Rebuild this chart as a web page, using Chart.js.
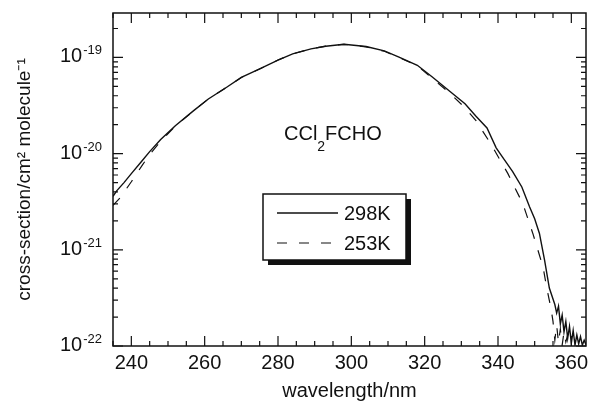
<!DOCTYPE html>
<html>
<head>
<meta charset="utf-8">
<title>CCl2FCHO absorption cross-section</title>
<script src="https://cdn.jsdelivr.net/npm/chart.js@4/dist/chart.umd.min.js"></script>
<style>
  html, body { margin: 0; padding: 0; background: #fff; }
  #wrap { width: 591px; height: 405px; }
</style>
</head>
<body>
<div id="wrap"><canvas id="chart"></canvas></div>
<script>
'use strict';

// ── Data ──────────────────────────────────────────────────────
const wl298 = [235, 236, 238, 240, 243, 245, 248, 252, 257, 261, 266, 270, 275, 280,
  284, 289, 293, 298, 304, 309, 313, 318, 322, 327, 331, 334, 337, 339.5, 341, 344,
  346.5, 348.6, 350, 351.3, 352.7, 354, 355.5, 356, 356.5, 357, 357.5, 358, 358.5,
  359, 359.5, 360, 360.5, 361, 361.5, 362, 362.5, 363, 363.5, 364];
const xs298 = [3.6e-21, 4.1e-21, 5.0e-21, 6.2e-21, 8.5e-21, 1.05e-20, 1.4e-20, 1.95e-20,
  2.8e-20, 3.7e-20, 4.9e-20, 6.2e-20, 7.6e-20, 9.4e-20, 1.09e-19, 1.23e-19, 1.31e-19,
  1.37e-19, 1.30e-19, 1.17e-19, 1.01e-19, 8.3e-20, 6.3e-20, 4.4e-20, 3.3e-20, 2.45e-20,
  1.85e-20, 1.15e-20, 9.5e-21, 6.5e-21, 4.5e-21, 2.8e-21, 2.1e-21, 1.48e-21, 7.8e-22,
  4.0e-22, 2.7e-22, 2.2e-22, 2.6e-22, 1.7e-22, 2.1e-22, 1.4e-22, 1.8e-22, 1.2e-22,
  1.6e-22, 1.07e-22, 1.45e-22, 1.02e-22, 1.3e-22, 1.05e-22, 1.25e-22, 1.02e-22,
  1.15e-22, 1.03e-22];

const wl253 = [235, 237, 240, 243, 245, 248, 252, 257, 261, 266, 270, 275, 280, 284,
  289, 293, 298, 304, 309, 313, 318, 322, 327, 331, 334, 338, 342.7, 346.8, 349.5,
  352.3, 353.2, 354.5, 355, 355.5, 356, 356.5, 357, 357.5, 358, 358.5, 359, 360];
const xs253 = [2.9e-21, 3.5e-21, 5.1e-21, 7.6e-21, 9.8e-21, 1.35e-20, 1.93e-20, 2.8e-20,
  3.7e-20, 4.9e-20, 6.2e-20, 7.6e-20, 9.4e-20, 1.09e-19, 1.23e-19, 1.31e-19, 1.37e-19,
  1.29e-19, 1.16e-19, 1.0e-19, 8.2e-20, 6.1e-20, 4.2e-20, 3.0e-20, 2.2e-20, 1.27e-20,
  6.2e-21, 3.0e-21, 1.48e-21, 6.6e-22, 4.2e-22, 2.4e-22, 1.8e-22, 1.15e-22, 1.65e-22,
  1.08e-22, 1.5e-22, 1.02e-22, 1.4e-22, 1.1e-22, 1.3e-22, 1.02e-22];

const xTickLabels = [240, 260, 280, 300, 320, 340, 360];
const yDecades    = [-22, -21, -20, -19];
const yTickExp    = ['-22', '-21', '-20', '-19'];

const FONT = '"Liberation Sans", Arial, Helvetica, sans-serif';
const INK  = '#111';

function pts(xs, ys) { return xs.map((x, i) => ({ x, y: ys[i] })); }

// ── Frame, inward ticks, y labels, legend box and label ───────
const paperPlugin = {
  id: 'paper',
  afterDatasetsDraw(chart) {
    const { ctx, chartArea: a, scales: { x, y } } = chart;
    ctx.save();
    ctx.strokeStyle = INK;
    ctx.fillStyle = INK;

    // frame
    ctx.lineWidth = 1.5;
    ctx.strokeRect(a.left, a.top, a.right - a.left, a.bottom - a.top);

    // x ticks, bottom and top
    ctx.lineWidth = 1.2;
    ctx.beginPath();
    for (let v = Math.ceil(x.min / 5) * 5; v <= x.max; v += 5) {
      const px = x.getPixelForValue(v);
      const len = v % 20 === 0 ? 10 : 5;
      ctx.moveTo(px, a.bottom); ctx.lineTo(px, a.bottom - len);
      ctx.moveTo(px, a.top);    ctx.lineTo(px, a.top + len);
    }
    // y ticks, left and right
    for (let e = -23; e <= -18; e++) {
      for (let m = 1; m <= 9; m++) {
        const v = m * Math.pow(10, e);
        if (v < y.min * 0.999 || v > y.max) continue;
        const py = y.getPixelForValue(v);
        const len = m === 1 ? 10 : 5;
        ctx.moveTo(a.left, py);  ctx.lineTo(a.left + len, py);
        ctx.moveTo(a.right, py); ctx.lineTo(a.right - len, py);
      }
    }
    ctx.stroke();

    // y tick labels: 10 with a raised exponent
    ctx.textBaseline = 'alphabetic';
    ctx.textAlign = 'left';
    yDecades.forEach((d, i) => {
      const py = y.getPixelForValue(Math.pow(10, d));
      ctx.font = '13px ' + FONT;
      const we = ctx.measureText(yTickExp[i]).width;
      ctx.font = '20px ' + FONT;
      const wb = ctx.measureText('10').width;
      const right = a.left - 11;
      ctx.fillText('10', right - we - wb - 1, py + 5);
      ctx.font = '13px ' + FONT;
      ctx.fillText(yTickExp[i], right - we, py - 3);
    });

    // compound label
    let tx = 284;
    const ty = 140;
    ctx.font = '20px ' + FONT;
    ctx.fillText('CCl', tx, ty);
    tx += ctx.measureText('CCl').width;
    ctx.font = '14px ' + FONT;
    ctx.fillText('2', tx, ty + 11);
    tx += ctx.measureText('2').width;
    ctx.font = '20px ' + FONT;
    ctx.fillText('FCHO', tx, ty);

    // legend box with drop shadow
    const bx = 263, by = 194, bw = 143, bh = 66;
    ctx.fillRect(bx + 5, by + 5, bw, bh);
    ctx.fillStyle = '#fff';
    ctx.fillRect(bx, by, bw, bh);
    ctx.lineWidth = 1.5;
    ctx.strokeRect(bx, by, bw, bh);

    ctx.fillStyle = INK;
    ctx.textBaseline = 'middle';
    chart.data.datasets.forEach((ds, i) => {
      const ly = 213 + i * 30;
      ctx.lineWidth = ds.borderWidth;
      ctx.setLineDash(ds.borderDash || []);
      ctx.beginPath();
      ctx.moveTo(277, ly);
      ctx.lineTo(338, ly);
      ctx.stroke();
      ctx.setLineDash([]);
      ctx.fillText(ds.label, 344, ly + 1);
    });
    ctx.restore();
  },
};

new Chart(document.getElementById('chart'), {
  type: 'line',
  data: {
    datasets: [
      {
        label: '298K',
        data: pts(wl298, xs298),
        borderColor: INK,
        borderWidth: 1.4,
        pointRadius: 0,
        tension: 0,
      },
      {
        label: '253K',
        data: pts(wl253, xs253),
        borderColor: INK,
        borderWidth: 1.2,
        borderDash: [10, 12],
        pointRadius: 0,
        tension: 0,
      },
    ],
  },
  options: {
    responsive: true,
    maintainAspectRatio: false,
    animation: false,
    layout: { padding: { top: 13, right: 5, left: 0, bottom: 0 } },
    plugins: {
      legend: { display: false },
      tooltip: { enabled: false },
    },
    scales: {
      x: {
        type: 'linear',
        min: 235,
        max: 364,
        afterFit: (s) => { s.height = 59; s.paddingLeft = 0; s.paddingRight = 0; },
        afterBuildTicks: (s) => { s.ticks = xTickLabels.map((v) => ({ value: v })); },
        grid: { display: false, drawTicks: false },
        border: { display: false },
        ticks: {
          autoSkip: false,
          maxRotation: 0,
          padding: 5,
          color: INK,
          font: { family: FONT, size: 20 },
        },
        title: {
          display: true,
          text: 'wavelength/nm',
          color: INK,
          font: { family: FONT, size: 20 },
          padding: { top: 0, bottom: 2 },
        },
      },
      y: {
        type: 'logarithmic',
        min: 1e-22,
        max: 2.9e-19,
        afterFit: (s) => { s.width = 113; s.paddingTop = 0; s.paddingBottom = 0; },
        grid: { display: false, drawTicks: false },
        border: { display: false },
        ticks: { display: false },
        title: {
          display: true,
          text: 'cross-section/cm² molecule⁻¹',
          color: INK,
          font: { family: FONT, size: 19 },
          padding: { top: 13, bottom: 0 },
        },
      },
    },
  },
  plugins: [paperPlugin],
});
</script>
</body>
</html>
